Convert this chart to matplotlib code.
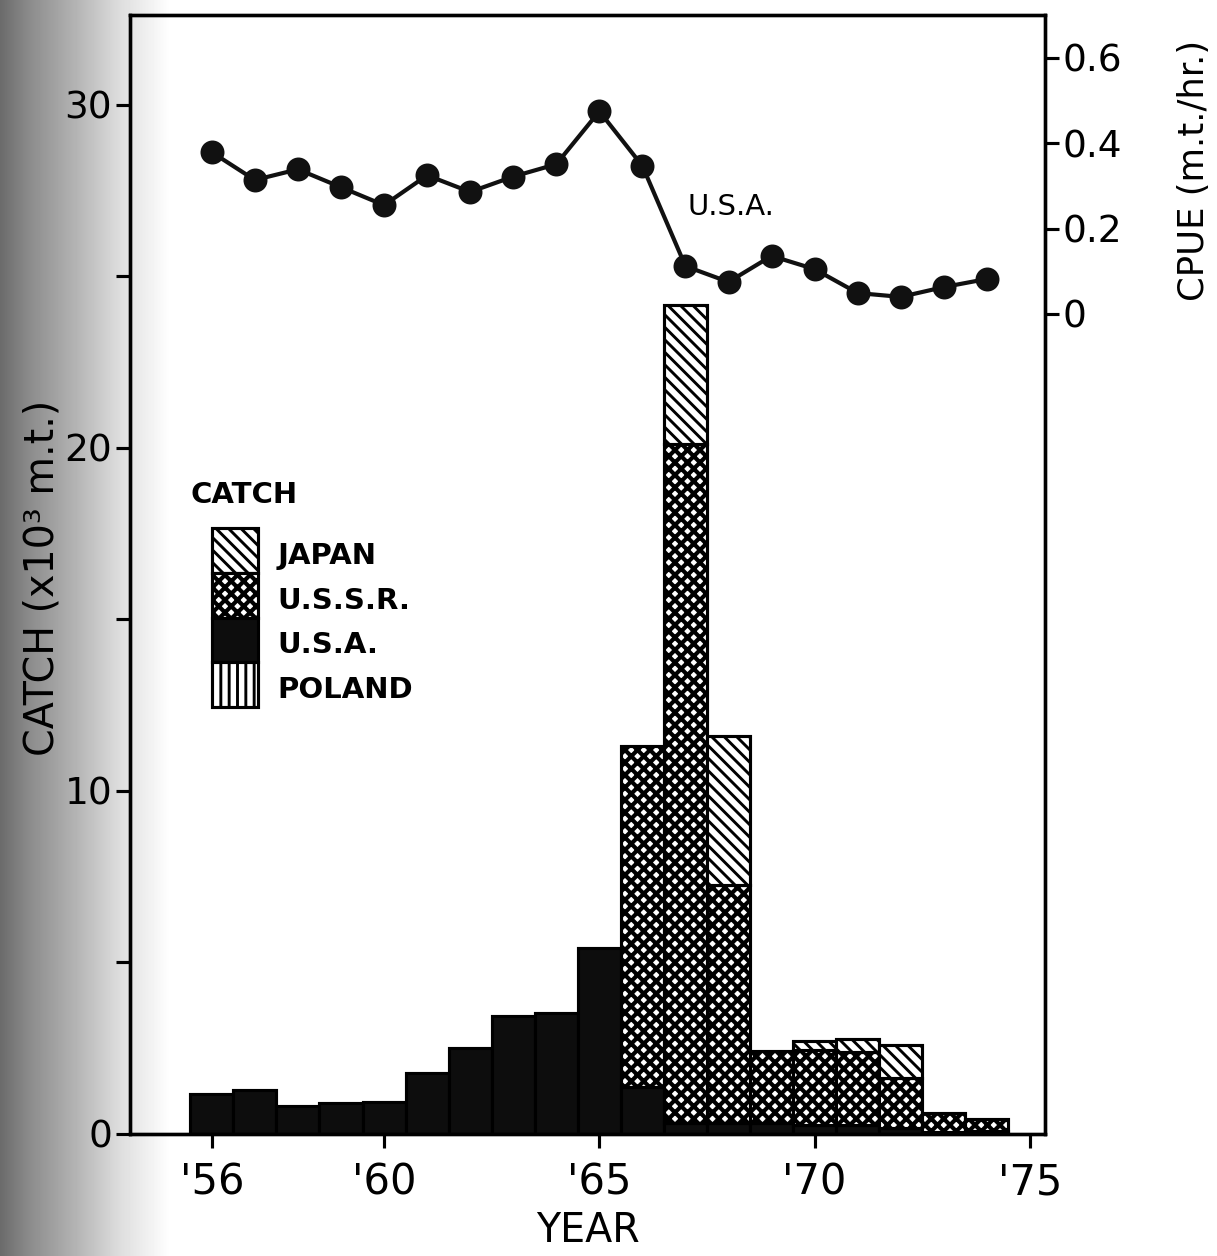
import numpy as np
import matplotlib.pyplot as plt
from matplotlib.patches import Rectangle

plt.rcParams.update({
    'font.family': 'DejaVu Sans',
    'hatch.linewidth': 1.4,
    'axes.linewidth': 1.6,
    'xtick.major.width': 1.5,
    'ytick.major.width': 1.5,
    'ytick.minor.width': 1.5,
})

# values
years = np.arange(1956, 1975)
usa = [1.17, 1.28, 0.82, 0.89, 0.92, 1.78, 2.50, 3.44, 3.53, 5.42,
       1.37, 0.32, 0.32, 0.32, 0.26, 0.26, 0.18, 0.05, 0.10]
ussr = [0, 0, 0, 0, 0, 0, 0, 0, 0, 0,
        9.94, 19.80, 6.94, 2.10, 2.19, 2.13, 1.45, 0.56, 0.34]
japan = [0, 0, 0, 0, 0, 0, 0, 0, 0, 0,
         0, 4.05, 4.34, 0, 0.26, 0.38, 0.97, 0, 0]
poland = [0] * 19
cpue = [0.379, 0.314, 0.339, 0.297, 0.255, 0.325, 0.286, 0.322, 0.351, 0.475,
        0.347, 0.112, 0.075, 0.136, 0.105, 0.049, 0.040, 0.063, 0.082]

year_ticks = [1956, 1960, 1965, 1970, 1975]
year_labels = ["'56", "'60", "'65", "'70", "'75"]
cpue_ticks = [0, 0.2, 0.4, 0.6]
cpue_labels = ['0', '0.2', '0.4', '0.6']

# stacking order bottom -> top, legend lists top -> bottom
# (name, values, style, hatch linewidth)
series = [
    ('POLAND', poland, dict(facecolor='white', hatch='|||'), 1.4),
    ('U.S.A.', usa, dict(facecolor='#0d0d0d'), 1.4),
    ('U.S.S.R.', ussr, dict(facecolor='white', hatch='xxxx'), 2.0),
    ('JAPAN', japan, dict(facecolor='white', hatch='\\\\\\\\'), 1.4),
]

fig = plt.figure(figsize=(8.12, 1256 / 150), dpi=150)

# book-gutter shading on the left edge of the scan
bg = fig.add_axes([0, 0, 1, 1], zorder=-10)
xs = np.linspace(0, 1218, 1218)
shade = np.interp(xs, [0, 30, 80, 120, 170, 1218], [0.42, 0.55, 0.72, 0.87, 1.0, 1.0])
bg.imshow(shade[None, :], cmap='gray', vmin=0, vmax=1, aspect='auto',
          extent=[0, 1, 0, 1])
bg.axis('off')

ax = fig.add_axes([130 / 1218, 1 - 1134 / 1256, 915 / 1218, 1119 / 1256])
ax.patch.set_alpha(0)


def set_hlw(patch, lw):
    if hasattr(patch, 'set_hatch_linewidth'):
        patch.set_hatch_linewidth(lw)


bottom = np.zeros(len(years))
for name, vals, style, hlw in series:
    vals = np.array(vals, dtype=float)
    m = vals > 0
    if m.any():
        with plt.rc_context({'hatch.linewidth': hlw}):
            bars = ax.bar(years[m], vals[m], width=1.0, bottom=bottom[m],
                          edgecolor='black', linewidth=1.5, **style)
        for b in bars:
            set_hlw(b, hlw)
    bottom += vals

ax.set_xlim(1954.1, 1975.35)
ax.set_ylim(0, 32.62)
ax.set_xticks(year_ticks)
ax.set_xticklabels(year_labels, fontsize=20)
ax.set_yticks([0, 10, 20, 30])
ax.set_yticklabels(['0', '10', '20', '30'], fontsize=18)
ax.set_yticks([5, 15, 25], minor=True)
ax.tick_params(axis='x', direction='out', length=6.5, pad=6.5)
ax.tick_params(axis='y', which='both', direction='out', length=6.5, pad=2)
ax.set_xlabel('YEAR', fontsize=19, labelpad=4)
ax.set_ylabel('CATCH (x10³ m.t.)', fontsize=19)
ax.yaxis.set_label_coords(-0.074, 0.497)

ax2 = ax.twinx()
ax2.plot(years, cpue, '-o', color='#111111', lw=2.0, ms=10.5,
         markeredgecolor='#111111')
ax2.set_ylim(-1.922, 0.7007)
ax2.set_yticks(cpue_ticks)
ax2.set_yticklabels(cpue_labels, fontsize=18)
ax2.tick_params(axis='y', direction='out', length=6.5, pad=2)
ax2.set_ylabel('CPUE (m.t./hr.)', fontsize=17, rotation=90)
ax2.yaxis.set_label_coords(1.1443, 0.8615)
ax2.text(1968.05, 0.25, 'U.S.A.', fontsize=14, ha='center', va='center')

# legend drawn by hand
def fy(p):
    return (1134 - p) / 1119

ax.text(0.0656, fy(495), 'CATCH', transform=ax.transAxes, fontsize=14,
        fontweight='bold', ha='left', va='center')
box_h = 44.75
for i, (name, vals, style, hlw) in enumerate(series[::-1]):
    top = 528 + i * box_h
    with plt.rc_context({'hatch.linewidth': hlw}):
        r = Rectangle((0.0896, fy(top + box_h)), 0.0503, box_h / 1119,
                      transform=ax.transAxes, edgecolor='black',
                      linewidth=1.5, clip_on=False, **style)
    set_hlw(r, hlw)
    ax.add_patch(r)
    ax.text(0.1612, fy(556 + i * 44.7), name, transform=ax.transAxes,
            fontsize=14, fontweight='bold', ha='left', va='center')

fig.savefig('out.png', dpi=150)
